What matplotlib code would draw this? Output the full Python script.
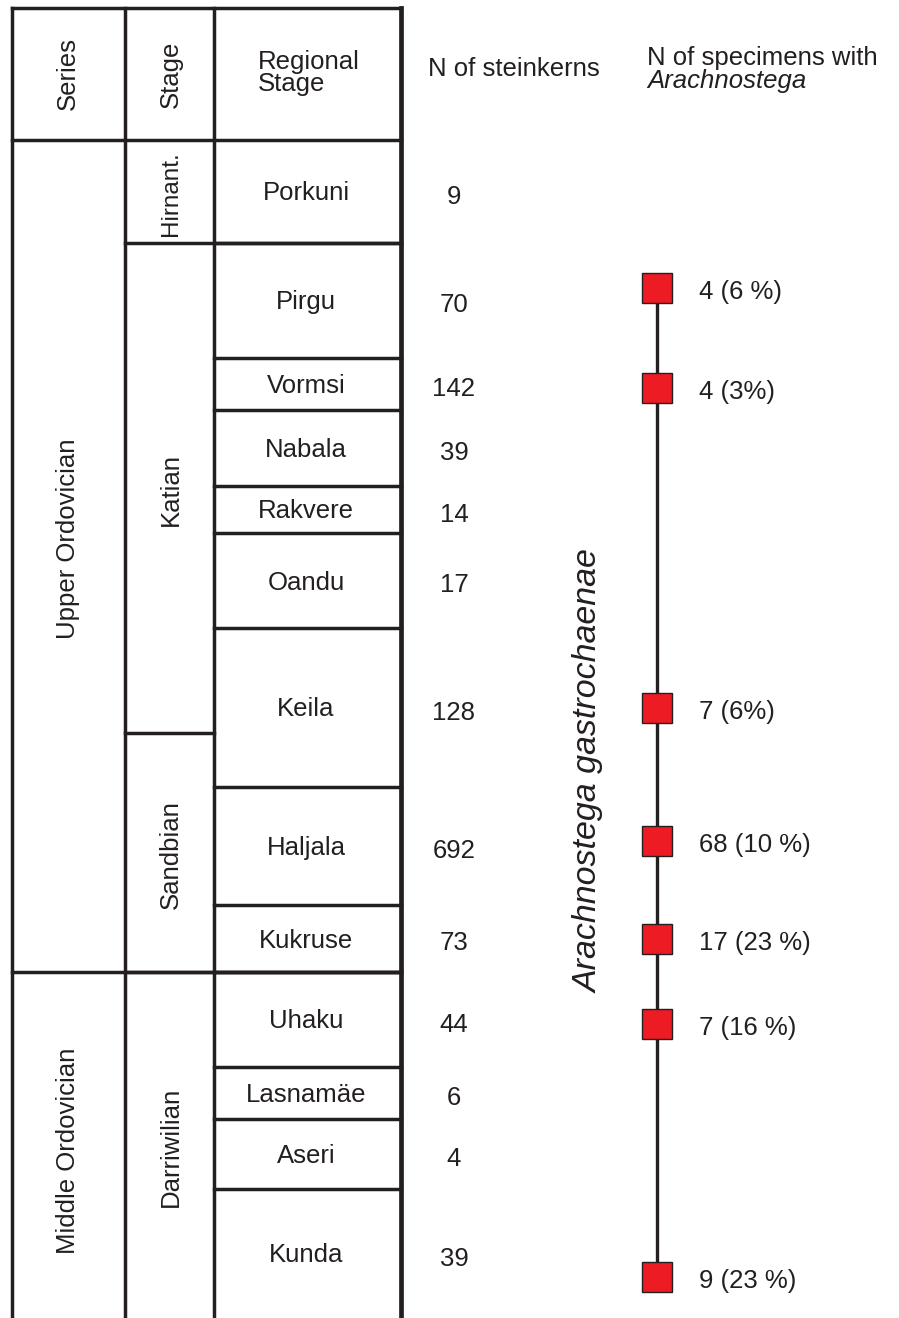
import matplotlib.pyplot as plt

plt.rcParams['font.family'] = ['Liberation Sans', 'DejaVu Sans']

# подразделения и их границы (в пикселях шкалы колонки)
series = ['Upper Ordovician', 'Middle Ordovician']
series_bounds = [140, 972, 1318]
stages = ['Hirnant.', 'Katian', 'Sandbian', 'Darriwilian']
stage_bounds = [140, 243, 733, 972, 1318]
regional = ['Porkuni', 'Pirgu', 'Vormsi', 'Nabala', 'Rakvere', 'Oandu', 'Keila',
            'Haljala', 'Kukruse', 'Uhaku', 'Lasnamäe', 'Aseri', 'Kunda']
regional_bounds = [140, 243, 358, 410, 486, 533, 628, 787, 905, 972, 1067, 1119, 1189, 1318]
n_steinkerns = [9, 70, 142, 39, 14, 17, 128, 692, 73, 44, 6, 4, 39]

# находки Arachnostega
arach_stage = ['Pirgu', 'Vormsi', 'Keila', 'Haljala', 'Kukruse', 'Uhaku', 'Kunda']
arach_labels = ['4 (6 %)', '4 (3%)', '7 (6%)', '68 (10 %)', '17 (23 %)', '7 (16 %)', '9 (23 %)']
arach_frac = [0.39, 0.58, 0.5, 0.46, 0.51, 0.55, 0.68]  # положение внутри горизонта

ink = '#231f20'
red = '#ed1c24'

fig = plt.figure(figsize=(8.99, 13.18), dpi=100)
ax = fig.add_axes([0, 0, 1, 1])
ax.set_xlim(0, 899)
ax.set_ylim(1318, 0)
ax.axis('off')

x_cols = [12, 125, 214, 401]
top = 8
lw = 2.5

# вертикальные линии колонки
for i, x in enumerate(x_cols):
    ax.plot([x, x], [top, 1318], color=ink, lw=lw + (0.9 if i == 3 else 0), solid_capstyle='projecting')

# горизонтальные линии
ax.plot([x_cols[0], x_cols[3]], [top, top], color=ink, lw=lw)
for y in series_bounds[:-1]:
    ax.plot([x_cols[0], x_cols[3]], [y, y], color=ink, lw=lw)
for y in stage_bounds[1:-1]:
    ax.plot([x_cols[1], x_cols[3] if y in regional_bounds else x_cols[2]], [y, y], color=ink, lw=lw)
for y in regional_bounds[1:-1]:
    ax.plot([x_cols[2], x_cols[3]], [y, y], color=ink, lw=lw)

fs = 18.5
# заголовки
ax.text(68, 74, 'Series', rotation=90, ha='center', va='center', fontsize=fs, color=ink)
ax.text(171, 74, 'Stage', rotation=90, ha='center', va='center', fontsize=fs, color=ink)
ax.text(258, 73, 'Regional\nStage', ha='left', va='center', fontsize=fs, color=ink, linespacing=0.85)
ax.text(428, 69, 'N of steinkerns', ha='left', va='center', fontsize=fs, color=ink)
ax.text(647, 58, 'N of specimens with', ha='left', va='center', fontsize=fs, color=ink)
ax.text(647, 81, 'Arachnostega', ha='left', va='center', fontsize=fs, color=ink, style='italic')

# серии
series_y = [539, 1151]
for name, y in zip(series, series_y):
    ax.text(68, y, name, rotation=90, ha='center', va='center', fontsize=fs, color=ink)

# ярусы
for i, name in enumerate(stages):
    yc = (stage_bounds[i] + stage_bounds[i + 1]) / 2
    ax.text(171, yc + 2, name, rotation=90, ha='center', va='center',
            fontsize=fs - 1 if i == 0 else fs, color=ink)

# региональные ярусы и число ядер
centers = {}
for i, name in enumerate(regional):
    yc = (regional_bounds[i] + regional_bounds[i + 1]) / 2
    centers[name] = (regional_bounds[i], regional_bounds[i + 1])
    ax.text(306, yc + 2, name, ha='center', va='center', fontsize=fs, color=ink)
    ax.text(454, yc + 5, str(n_steinkerns[i]), ha='center', va='center', fontsize=fs, color=ink)

# линия и маркеры Arachnostega
ys = []
for name, f in zip(arach_stage, arach_frac):
    y0, y1 = centers[name]
    ys.append(y0 + f * (y1 - y0))
ax.plot([657, 657], [ys[0], ys[-1]], color=ink, lw=2.4, zorder=2)
ax.plot([657] * len(ys), ys, ls='none', marker='s', markersize=21,
        markerfacecolor=red, markeredgecolor=ink, markeredgewidth=1, zorder=3)
for y, lab in zip(ys, arach_labels):
    ax.text(699, y + 4, lab, ha='left', va='center', fontsize=fs, color=ink)

ax.text(589, 771, 'Arachnostega gastrochaenae', rotation=90, ha='center', va='center',
        fontsize=24.5, color=ink, style='italic')

fig.savefig('out.png', dpi=100)
